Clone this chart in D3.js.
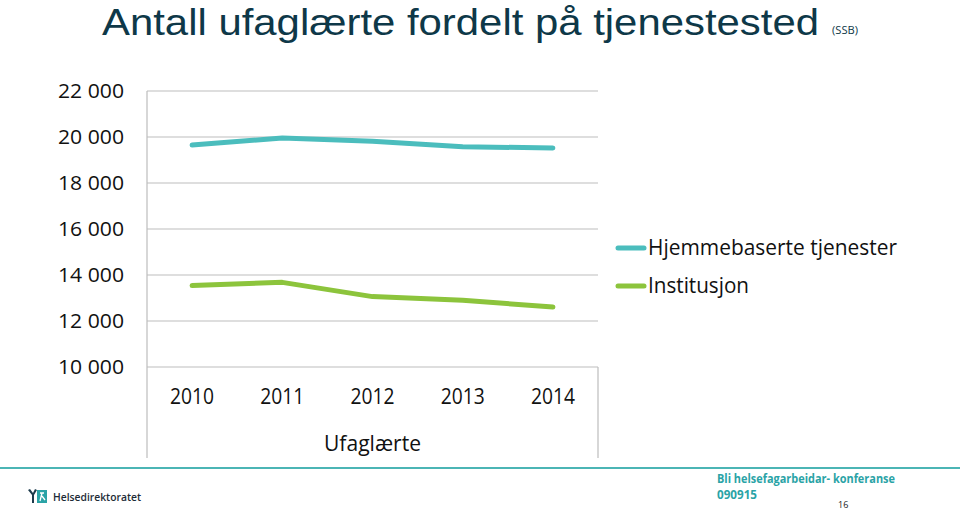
<!DOCTYPE html>
<html><head><meta charset="utf-8">
<script src="https://cdn.jsdelivr.net/npm/d3@7"></script>
<style>body{margin:0;background:#fff;} svg{display:block;font-family:"Open Sans",sans-serif;}</style>
</head><body>
<svg id="c" width="960" height="510"></svg>
<script>
const years = ["2010","2011","2012","2013","2014"];
const hjemmebaserte = [19650, 19960, 19820, 19580, 19520];
const institusjon = [13540, 13680, 13060, 12900, 12610];
const yTicks = [10000,12000,14000,16000,18000,20000,22000];
const seriesNames = ["Hjemmebaserte tjenester","Institusjon"];
const seriesColors = ["#4bbdbd","#8cc43c"];

const svg = d3.select("#c");
const L=147, R=598, T=91, B=367;
const x = d3.scaleBand().domain(years).range([L,R]);
const y = d3.scaleLinear().domain([10000,22000]).range([B,T]);
const fmt = v => d3.format(",")(v).replace(",", " ");

// title
svg.append("text").attr("x",102).attr("y",34.5).attr("font-size",37).attr("fill","#0e3848")
  .attr("font-family","'Liberation Sans',sans-serif")
  .attr("textLength",717).attr("lengthAdjust","spacingAndGlyphs")
  .text("Antall ufaglærte fordelt på tjenestested");
svg.append("text").attr("x",832).attr("y",34).attr("font-size",10).attr("fill","#0e3848")
  .attr("textLength",26).attr("lengthAdjust","spacingAndGlyphs").text("(SSB)");

// gridlines
svg.append("g").selectAll("line").data(yTicks).join("line")
  .attr("x1",L).attr("x2",R).attr("y1",d=>y(d)).attr("y2",d=>y(d))
  .attr("stroke","#bdbdbd").attr("stroke-width",1.2);

// y axis
const ya = svg.append("g").attr("transform",`translate(${L},0)`)
  .call(d3.axisLeft(y).tickValues(yTicks).tickFormat(fmt).tickSize(0).tickPadding(23));
ya.select(".domain").remove();
ya.selectAll("text").attr("font-size",20.5).attr("fill","#111").attr("font-family","'Open Sans',sans-serif")
  .attr("textLength",66).attr("lengthAdjust","spacingAndGlyphs");

// frame lines of category axis
svg.append("line").attr("x1",L).attr("x2",L).attr("y1",T).attr("y2",458).attr("stroke","#bdbdbd").attr("stroke-width",1.2);
svg.append("line").attr("x1",R).attr("x2",R).attr("y1",B).attr("y2",458).attr("stroke","#bdbdbd").attr("stroke-width",1.2);

// x axis
const xa = svg.append("g").attr("transform",`translate(0,${B})`)
  .call(d3.axisBottom(x).tickSize(0).tickPadding(22));
xa.select(".domain").remove();
xa.selectAll("text").attr("font-size",21).attr("fill","#111").attr("font-family","'Open Sans',sans-serif")
  .attr("textLength",44).attr("lengthAdjust","spacingAndGlyphs");
svg.append("text").attr("x",(L+R)/2).attr("y",451).attr("text-anchor","middle").attr("font-size",21).attr("fill","#111")
  .attr("textLength",97).attr("lengthAdjust","spacingAndGlyphs").text("Ufaglærte");

// lines
const series = [hjemmebaserte, institusjon];
const line = d3.line().x((d,i)=>x(years[i])+x.bandwidth()/2).y(d=>y(d));
svg.append("g").selectAll("path").data(series).join("path")
  .attr("d",line).attr("fill","none").attr("stroke",(d,i)=>seriesColors[i])
  .attr("stroke-width",5).attr("stroke-linecap","round").attr("stroke-linejoin","round");

// legend
const legendLens = [249, 101];
const lg = svg.append("g").selectAll("g").data(seriesNames).join("g")
  .attr("transform",(d,i)=>`translate(618,${248+i*38})`);
lg.append("line").attr("x1",0).attr("x2",26).attr("stroke",(d,i)=>seriesColors[i]).attr("stroke-width",5).attr("stroke-linecap","round");
lg.append("text").attr("x",30).attr("y",7).attr("font-size",21).attr("fill","#111")
  .attr("textLength",(d,i)=>legendLens[i]).attr("lengthAdjust","spacingAndGlyphs").text(d=>d);

// footer
svg.append("line").attr("x1",0).attr("x2",960).attr("y1",468).attr("y2",468).attr("stroke","#4bb5b5").attr("stroke-width",2);
svg.append("text").attr("x",717).attr("y",483).attr("font-size",12.5).attr("font-weight","bold").attr("fill","#2aa3a6")
  .attr("textLength",178).attr("lengthAdjust","spacingAndGlyphs").text("Bli helsefagarbeidar- konferanse");
svg.append("text").attr("x",717).attr("y",499).attr("font-size",12.5).attr("font-weight","bold").attr("fill","#2aa3a6")
  .attr("textLength",40).attr("lengthAdjust","spacingAndGlyphs").text("090915");
svg.append("text").attr("x",838).attr("y",508).attr("font-size",9).attr("fill","#222").text("16");
// logo
const lo = svg.append("g").attr("transform","translate(28,489)");
lo.append("path").attr("d","M0,1 L4,6 L4,14 L6,14 L6,6 L9,1 L7,0 L5,4 L2,0 Z").attr("fill","#1d3b4c");
lo.append("rect").attr("x",9).attr("y",1).attr("width",10).attr("height",13).attr("fill","#2aa3a6");
lo.append("path").attr("d","M12,4 L16,4 M14,4 L12,12 M14,7 L17,11").attr("stroke","#fff").attr("stroke-width",1.3).attr("fill","none");
svg.append("text").attr("x",53).attr("y",501).attr("font-size",11.5).attr("font-weight","600").attr("fill","#1d2b36")
  .attr("textLength",88).attr("lengthAdjust","spacingAndGlyphs").text("Helsedirektoratet");
</script>
</body></html>
